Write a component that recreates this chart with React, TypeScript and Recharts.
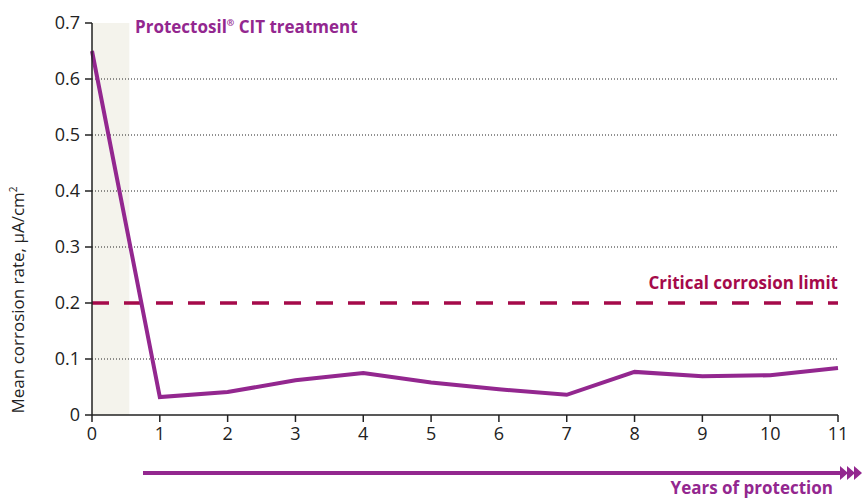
import { LineChart, Line, XAxis, YAxis, ReferenceArea, ReferenceLine } from "recharts";

const years = [0, 1, 2, 3, 4, 5, 6, 7, 8, 9, 10, 11];
const corrosionRate = [0.65, 0.032, 0.041, 0.062, 0.075, 0.058, 0.046, 0.036, 0.077, 0.069, 0.071, 0.084];
const yTicks = [0, 0.1, 0.2, 0.3, 0.4, 0.5, 0.6, 0.7];
const gridValues = [0.1, 0.3, 0.4, 0.5, 0.6];
const criticalLimit = 0.2;
const treatmentEnd = 0.55;

const data = years.map((y, i) => ({ year: y, rate: corrosionRate[i] }));

const PURPLE = "#93278f";
const CRIMSON = "#a50a4a";
const FONT = "'Open Sans', sans-serif";

export default function App() {
  return (
    <div style={{ position: "absolute", top: 0, left: 0, width: 865, height: 501, background: "#fff", fontFamily: FONT }}>
      <LineChart width={865} height={501} data={data} margin={{ top: 23, right: 27, bottom: 56, left: 52 }}>
        {/* translucent band so the dotted grid still shows through */}
        <ReferenceArea x1={0} x2={treatmentEnd} y1={0} y2={0.7} fill="#dcd6c0" fillOpacity={0.3} stroke="none" />
        {gridValues.map((v) => (
          <ReferenceLine key={v} y={v} stroke="#222" strokeDasharray="1 2" strokeWidth={1} />
        ))}
        <XAxis
          dataKey="year"
          type="number"
          domain={[0, 11]}
          ticks={years}
          height={30}
          interval={0}
          tickSize={7}
          tickMargin={5}
          stroke="#222"
          strokeWidth={1.5}
          tick={{ fill: "#222", fontSize: 18, fontFamily: FONT }}
        />
        <YAxis
          domain={[0, 0.7]}
          ticks={yTicks}
          width={40}
          tickSize={7}
          tickMargin={5}
          stroke="#222"
          strokeWidth={1.5}
          tickFormatter={(v: number) => (v === 0 ? "0" : v.toFixed(1))}
          tick={{ fill: "#222", fontSize: 18, fontFamily: FONT }}
        />
        <ReferenceLine y={criticalLimit} stroke={CRIMSON} strokeWidth={3.5} strokeDasharray="17 15" />
        <Line type="linear" dataKey="rate" stroke={PURPLE} strokeWidth={4} dot={false} isAnimationActive={false} />
      </LineChart>
      <svg width={865} height={501} style={{ position: "absolute", top: 0, left: 0, pointerEvents: "none" }}>
        <text x={135} y={33} fill={PURPLE} fontSize={17} fontWeight={700} fontFamily={FONT}>
          Protectosil<tspan fontSize={9} dy={-7}>®</tspan><tspan dy={7}> CIT treatment</tspan>
        </text>
        <text x={838} y={289} textAnchor="end" fill={CRIMSON} fontSize={17} fontWeight={700} fontFamily={FONT}>
          Critical corrosion limit
        </text>
        <text transform="translate(24,300) rotate(-90)" textAnchor="middle" fill="#222" fontSize={17} fontFamily={FONT}>
          Mean corrosion rate, µA/cm<tspan fontSize={10} dy={-7}>2</tspan>
        </text>
        <line x1={143} y1={473} x2={842} y2={473} stroke={PURPLE} strokeWidth={4} />
        <polygon points="840,466 848,473 840,480" fill={PURPLE} />
        <polygon points="847,466 855,473 847,480" fill={PURPLE} />
        <polygon points="854,466 862,473 854,480" fill={PURPLE} />
        <text x={833} y={494} textAnchor="end" fill={PURPLE} fontSize={17} fontWeight={700} fontFamily={FONT}>
          Years of protection
        </text>
      </svg>
    </div>
  );
}
